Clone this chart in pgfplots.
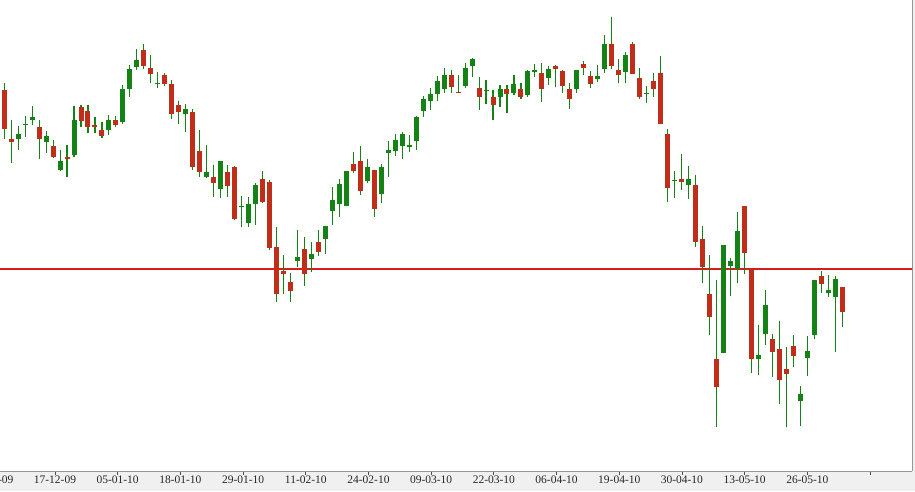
\documentclass[border=0pt]{standalone}
\usepackage{pgfplots}
\pgfplotsset{compat=1.18}
\usepackage{pgfplotstable}
\usepackage{fontspec}
\setmainfont{Liberation Serif}
\definecolor{bull}{RGB}{20,130,20}
\definecolor{bear}{RGB}{192,45,25}
\definecolor{strip}{RGB}{240,240,240}
\definecolor{framec}{RGB}{150,150,150}
\definecolor{levelred}{RGB}{215,30,30}

% candle values in chart units (pixel rows, measured from the top)
\pgfplotstableread{
i o h l c
2 139 126 150 134
3 125 116 137 124
4 120 106 125 117
6 142 131 153 136
8 170 150 171 161
10 155 106 157 120
15 130 115 135 120
17 122 85 124 89
18 89 65 97 69
19 67 49 70 60
22 84 72 88 83
26 114 104 132 109
29 177 145 178 172
31 189 161 198 161
34 207 196 227 206
35 223 197 227 204
36 204 183 225 185
42 261 230 267 257
44 259 242 272 254
46 239 226 254 226
47 211 187 225 200
48 204 179 217 184
49 206 171 206 171
52 181 159 183 167
54 194 164 203 167
55 153 141 177 150
56 151 134 156 140
57 146 132 159 134
58 147 135 152 145
59 141 116 150 117
60 111 96 117 99
61 101 88 110 94
62 94 76 101 81
63 89 68 93 75
66 86 63 88 68
67 66 58 77 59
69 91 80 104 90
71 97 85 107 89
73 93 75 95 84
75 95 70 97 71
76 72 64 77 70
78 78 66 85 69
82 89 70 93 70
85 79 65 82 76
86 69 35 73 44
89 72 52 83 55
92 94 86 103 93
96 181 171 198 180
98 185 166 199 179
103 353 245 353 245
104 266 258 296 261
105 269 212 283 231
108 359 325 375 355
109 334 290 345 305
114 401 386 426 394
115 358 336 376 351
116 335 280 339 280
118 293 275 297 290
119 297 276 352 279
}\upcandles

\pgfplotstableread{
i o h l c
0 90 83 139 129
1 139 120 163 142
5 127 120 159 139
7 146 140 158 157
9 157 145 177 159
11 107 105 127 121
12 111 105 133 127
13 125 117 133 127
14 130 122 138 136
16 120 116 127 125
20 50 44 69 66
21 68 55 83 74
23 75 73 86 84
24 84 80 119 114
25 105 101 124 112
27 112 109 170 167
28 151 130 177 172
30 177 165 197 183
32 172 165 197 186
33 167 166 220 219
37 179 171 203 202
38 182 180 250 248
39 247 227 302 294
40 271 255 294 274
41 282 273 302 291
43 249 237 286 274
45 242 230 256 252
50 164 152 173 171
51 161 146 195 191
53 170 170 217 209
64 75 70 93 87
65 92 75 93 93
68 88 77 110 97
70 97 90 120 105
72 89 85 113 94
74 89 83 99 97
77 73 63 102 89
79 66 65 87 69
80 71 70 93 86
81 89 83 109 99
83 64 61 75 68
84 76 71 88 84
87 44 17 69 66
88 70 59 83 75
90 44 42 74 74
91 78 68 99 97
93 81 73 97 89
94 73 56 124 124
95 134 129 202 188
97 179 154 190 182
99 185 175 247 242
100 239 226 283 267
101 294 255 335 317
102 359 280 427 387
106 206 206 274 253
107 269 269 373 359
110 339 334 377 352
111 349 321 404 380
112 369 347 427 374
113 346 335 367 356
117 276 271 293 284
120 287 287 327 312
}\downcandles

\begin{document}
\begin{tikzpicture}
\fill[strip] (0,0) rectangle (915pt,491pt);
\begin{axis}[
  at={(0pt,20pt)}, anchor=south west,
  scale only axis, width=912pt, height=471pt,
  xmin=-0.6, xmax=130, ymin=0, ymax=471, y dir=reverse,
  axis background/.style={fill=white},
  axis x line*=bottom, axis y line*=right,
  axis line style={draw=framec, line width=1pt, -},
  ytick=\empty,
  xtick={7.27,16.25,25.23,34.21,43.19,52.16,61.14,70.12,79.10,88.08,97.05,106.03,115.01,123.99},
  xticklabels={17-12-09,05-01-10,18-01-10,29-01-10,11-02-10,24-02-10,09-03-10,22-03-10,06-04-10,19-04-10,30-04-10,13-05-10,26-05-10,{}},
  tick align=outside, major tick length=4pt,
  xtick style={draw=black!70, line width=0.8pt},
  xticklabel style={font=\fontsize{11.5}{13}\selectfont, text=black!85, yshift=3pt},
  clip=true,
]
% reference level
\addplot[draw=levelred, line width=1.2pt, mark=none, forget plot,
  error bars/.cd, x dir=both, x explicit, error mark=none,
  error bar style={draw=levelred, line width=1.2pt}]
  coordinates {(65,269) +- (70,0)};
% wicks
\addplot[draw=none, mark=none, forget plot, error bars/.cd, y dir=plus, y explicit,
  error mark=none, error bar style={draw=bull, line width=1.1pt}]
  table[x=i, y=h, y error plus expr=\thisrow{l}-\thisrow{h}] {\upcandles};
\addplot[draw=none, mark=none, forget plot, error bars/.cd, y dir=plus, y explicit,
  error mark=none, error bar style={draw=bull, line width=1.1pt}]
  table[x=i, y=h, y error plus expr=\thisrow{l}-\thisrow{h}] {\downcandles};
% bodies
\addplot[draw=none, mark=none, forget plot, error bars/.cd, y dir=plus, y explicit,
  error mark=none, error bar style={draw=bull, line width=5pt}]
  table[x=i, y=c, y error plus expr=\thisrow{o}-\thisrow{c}] {\upcandles};
\addplot[draw=none, mark=none, forget plot, error bars/.cd, y dir=plus, y explicit,
  error mark=none, error bar style={draw=bear, line width=5pt}]
  table[x=i, y=o, y error plus expr=\thisrow{c}-\thisrow{o}] {\downcandles};
\end{axis}
% partly hidden first date label at the left edge (cut off as in the original)
\node[anchor=base, inner sep=0pt, font=\fontsize{11.5}{13}\selectfont, text=black!85]
  at (-7.7pt,7.8pt) {04-12-09};
\pgfresetboundingbox
\useasboundingbox (0,0) rectangle (915pt,491pt);
\end{tikzpicture}
\end{document}
